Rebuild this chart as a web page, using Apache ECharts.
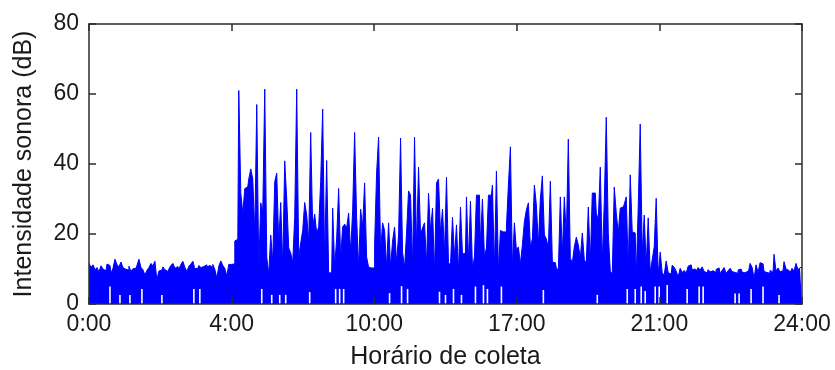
<!DOCTYPE html>
<html>
<head>
<meta charset="utf-8">
<script src="https://cdn.jsdelivr.net/npm/echarts@6/dist/echarts.min.js"></script>
<style>
  html, body { margin: 0; padding: 0; background: #fff; }
  #chart { width: 835px; height: 370px; }
</style>
</head>
<body>
<div id="chart"></div>
<script>
// x tick labels (evenly spaced on the original figure)
const tickLabels = ['0:00', '4:00', '10:00', '17:00', '21:00', '24:00'];

// upper envelope of the sound level (dB), left to right
const levelsNightStart = [
  11.6, 10.5, 11.2, 9.8, 10.4, 9.2, 10.9, 10.0, 9.5, 11.4,
  11.0, 8.8, 10.2, 12.8, 11.3, 10.6, 12.0, 10.4, 9.9, 9.7,
  10.8, 9.3, 10.1, 10.2, 11.0, 12.8, 10.5, 9.8, 8.3, 9.6,
  10.4, 11.6, 10.9, 12.2, 6.9, 9.4, 9.7, 10.6, 9.8, 9.3,
  10.0, 11.0, 11.6, 10.2, 10.7, 9.9, 11.3, 12.2, 10.5, 9.3,
  10.8, 11.4, 12.2, 10.1, 10.2, 11.0, 10.4, 10.7, 11.2, 10.6,
  11.0, 10.5, 11.3, 9.9, 7.4, 10.8, 12.3, 11.0, 10.2, 8.0,
  11.3
];

const levelsDay = [
  11.3, 11.5, 18, 18.5, 61, 31.7, 26, 33, 33.5, 35.7,
  38.6, 35.7, 20.3, 57, 10.5, 28.9, 26.4, 61.4, 13.4, 8.5,
  19.7, 12, 35, 37.4, 17.7, 29, 10.8, 40.9, 30, 16,
  14.6, 11.8, 24.8, 61.4, 13.4, 17.4, 21, 29, 25.4, 17.7,
  49, 22, 25.7, 20.3, 22, 35, 55.7, 12, 41, 8.9,
  8.9, 27.4, 10.6, 18.6, 33, 13, 22, 22.8, 21.7, 26,
  14.8, 26.6, 49, 24.8, 10.3, 27.1, 22, 34.6, 13.4, 10.5,
  10.3, 10.3, 16.9, 37.4, 47.7, 15, 23.2, 21, 10.5, 23.2,
  10.5, 18, 22, 11.7, 19.7, 47.4, 14.8, 10.3, 20.3, 32.3,
  31.1, 10.5, 47.7, 16, 39.1, 20, 21.7, 23.2, 11.1, 31.7,
  21, 27.4, 8.9, 34.6, 35.7, 20.3, 27.1, 14.5, 36.2, 11.8,
  11.1, 24.8, 13.4, 22.6, 8.9, 27.7, 14.3, 14.5, 30.6, 11.8,
  29.4, 10.3, 13.4, 31.1, 31.1, 16.9, 30, 13.4, 16, 31.1,
  31.1, 34, 10.3, 38, 9.4, 21, 20.6, 20.6, 22, 34,
  44.9, 10.5, 23.2, 15.4, 16.3, 11.4, 16.9, 23.5, 26.9, 28.9,
  16.3, 18.6, 34, 28.3, 17.1, 30, 36.6, 19.7, 18.6, 16,
  35.1, 12, 11.8, 10.3, 9.7, 30.6, 14, 30.6, 19.1, 47.1,
  13.1, 11.8, 16.3, 19.1, 16.9, 13.1, 20.3, 12.6, 11.8, 27.7,
  11.8, 31.7, 31.7, 26, 24, 39.1, 12, 28.9, 53.4, 20.3,
  9.4, 8.6, 33.4, 26, 20.3, 27.4, 27.7, 28.5, 30.6, 10.3,
  36.9, 20.6, 20.3, 7.7, 27.7, 51.4, 14.5, 25.4, 11.1, 24.6,
  9.1, 12.6, 16.3, 30.2, 8.3, 14.8, 8.9, 8.3, 12.3, 8.9,
  8.6, 11.1, 10.5, 9.4, 7.7
];

const levelsNightEnd = [
  10.2, 9.0, 9.6, 8.8, 10.8, 11.2, 9.8, 10.0, 9.4, 10.4,
  9.7, 10.6, 9.3, 8.9, 9.8, 9.2, 9.5, 9.0, 9.9, 10.3,
  8.7, 9.6, 10.4, 8.8, 9.5, 10.2, 9.3, 9.0, 8.8, 9.7,
  10.0, 9.1, 8.9, 9.4, 8.6, 11.6, 10.5, 7.3, 11.2, 9.0,
  11.8, 11.5, 9.3, 9.0, 8.8, 9.6, 9.1, 14.2, 9.4, 10.3,
  9.2, 9.5, 12.1, 10.0, 9.6, 8.9, 10.2, 9.4, 11.6, 9.8,
  10.4
];

// samples whose minimum stays above zero (white slits at the bottom)
const gapSamples = [10, 15, 20, 26, 36, 52, 55, 86, 91, 95, 98, 110, 123, 125, 127,
  150, 156, 159, 175, 178, 182, 186, 193, 197, 199, 206, 227, 254, 269, 273,
  276, 278, 283, 285, 289, 299, 305, 307, 323, 325, 331, 337, 345];
const gapLevels = [5, 2.6, 2.6, 4.3, 2.6, 4.3, 4.3, 4.3, 2.6, 2.6, 2.6, 3.4, 4.3, 4.3, 4.3,
  3.1, 5.1, 4.3, 3.5, 2.6, 4.3, 2.6, 5, 5.4, 4.3, 5, 4, 2.6, 4.3, 4.3,
  5, 3.7, 5, 5, 5.4, 4.3, 5, 5, 3, 3, 4.3, 5, 2.6];

const levels = levelsNightStart.concat(levelsDay, levelsNightEnd);
const step = (tickLabels.length - 1) / levels.length;

const envelope = levels.map((v, i) => [(i + 0.5) * step, v]);
envelope.unshift([0, levels[0]]);
envelope.push([levels.length * step, levels[levels.length - 1]]);
const slits = gapSamples.map((s, k) => [(s + 0.5) * step, gapLevels[k]]);

const font = 'Liberation Sans, Arial, sans-serif';
const frame = { color: '#2b2b2b', width: 1.5 };
const textColor = '#1a1a1a';

var myChart = echarts.init(document.getElementById('chart'), null, { renderer: 'canvas' });
var option = {
  animation: false,
  backgroundColor: '#fff',
  grid: { left: 89, right: 33, top: 24, bottom: 66, outerBoundsMode: 'none', containLabel: false },
  xAxis: [
    {
      type: 'value', min: 0, max: 5, interval: 1, position: 'bottom', z: 5,
      axisLine: { onZero: false, lineStyle: frame },
      axisTick: { inside: true, length: 7, lineStyle: frame },
      splitLine: { show: false },
      axisLabel: {
        formatter: v => tickLabels[v], color: textColor, fontSize: 23, fontFamily: font, margin: 9,
        showMinLabel: true, showMaxLabel: true
      },
      name: 'Horário de coleta', nameLocation: 'middle', nameGap: 41,
      nameTextStyle: { color: textColor, fontSize: 25, fontFamily: font }
    },
    {
      type: 'value', min: 0, max: 5, interval: 1, position: 'top', z: 5,
      axisLine: { onZero: false, lineStyle: frame },
      axisTick: { inside: true, length: 7, lineStyle: frame },
      axisLabel: { show: false }, splitLine: { show: false }
    }
  ],
  yAxis: [
    {
      type: 'value', min: 0, max: 80, interval: 20, position: 'left', z: 5,
      axisLine: { show: true, onZero: false, lineStyle: frame },
      axisTick: { show: true, inside: true, length: 7, lineStyle: frame },
      splitLine: { show: false },
      axisLabel: { color: textColor, fontSize: 23, fontFamily: font, margin: 10 },
      name: 'Intensidade sonora (dB)', nameLocation: 'middle', nameGap: 52,
      nameTextStyle: { color: textColor, fontSize: 25, fontFamily: font }
    },
    {
      type: 'value', min: 0, max: 80, interval: 20, position: 'right', z: 5,
      axisLine: { show: true, onZero: false, lineStyle: frame },
      axisTick: { show: true, inside: true, length: 7, lineStyle: frame },
      axisLabel: { show: false }, splitLine: { show: false }
    }
  ],
  series: [
    {
      type: 'line',
      data: envelope,
      step: 'middle',
      symbol: 'none',
      sampling: null,
      silent: true,
      z: 2,
      lineStyle: { color: '#0000ff', width: 1 },
      areaStyle: { color: '#0000ff', opacity: 1 }
    },
    {
      type: 'bar',
      data: slits,
      barWidth: 1.6,
      silent: true,
      z: 4,
      itemStyle: { color: '#ffffff', opacity: 1 }
    }
  ]
};

option && myChart.setOption(option);
</script>
</body>
</html>
